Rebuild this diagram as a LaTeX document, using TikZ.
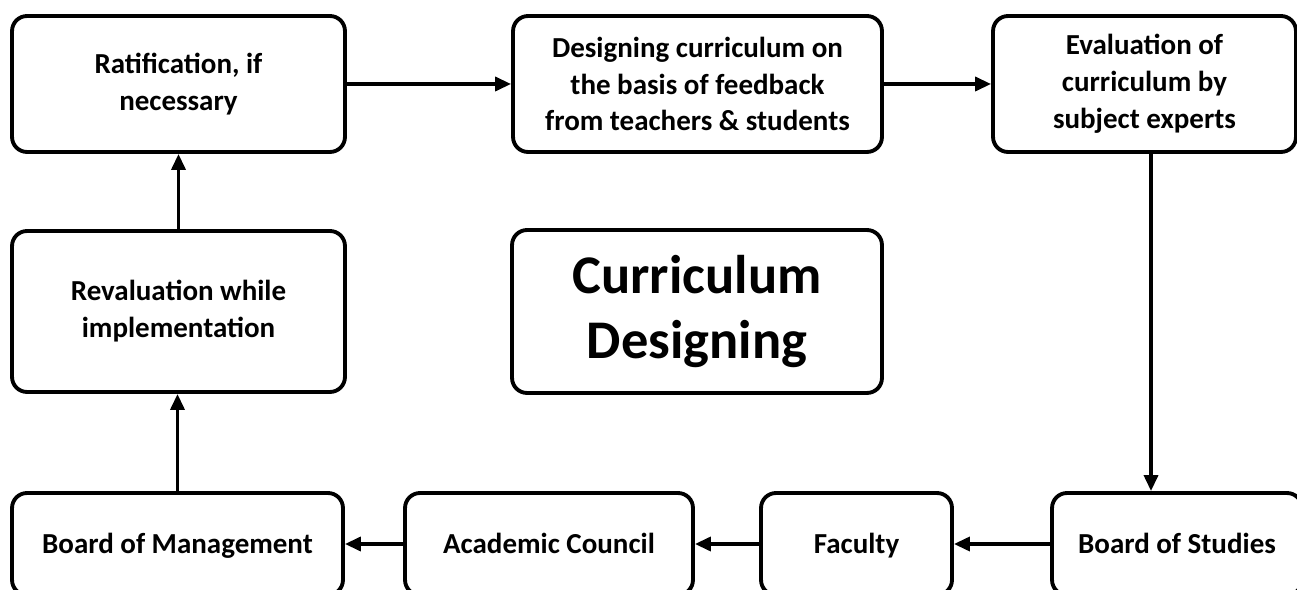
\documentclass[tikz,border=0pt]{standalone}
\usepackage{fontspec}
\setmainfont{Carlito}
\usetikzlibrary{arrows.meta}

\begin{document}
\begin{tikzpicture}[x=0.02cm, y=-0.02cm,
        box/.style={draw, line width=2.2pt, rounded corners=0.3cm, align=center, inner sep=0pt,
            font=\fontsize{16.5}{21}\selectfont\bfseries},
        oneline/.style={box, minimum height=2.04cm, text height=10.6pt, text depth=0pt},
        arr/.style={line width=2pt, -{Triangle[length=0.32cm,width=0.28cm]}}]
        \clip (0,0) rectangle (1297,590);

        % Top row
        \node[box, minimum width=6.66cm, minimum height=2.72cm] (ratif) at (178.5,84) {Ratification, if\\necessary};
        \node[box, minimum width=7.38cm, minimum height=2.72cm] (design) at (697.5,84) {Designing curriculum on\\the basis of feedback\\from teachers \& students};
        \node[box, minimum width=6.06cm, minimum height=2.72cm] (evalu) at (1144.5,84) {Evaluation of\\curriculum by\\subject experts};

        % Middle row
        \node[box, minimum width=6.66cm, minimum height=3.22cm] (reval) at (178.5,311.5) {Revaluation while\\implementation};
        \node[box, minimum width=7.4cm, minimum height=3.26cm, font=\fontsize{31}{37}\selectfont\bfseries] (title) at (697,311.5) {Curriculum\\Designing};

        % Bottom row
        \node[oneline, minimum width=6.62cm] (bom) at (177.5,544) {Board of Management};
        \node[oneline, minimum width=5.76cm] (acad) at (549,544) {Academic Council};
        \node[oneline, minimum width=3.82cm] (fac) at (856.5,544) {Faculty};
        \node[oneline, minimum width=5.0cm] (bos) at (1177,544) {Board of Studies};

        % Arrows
        \draw[arr] (ratif) -- (design);
        \draw[arr] (design) -- (evalu);
        \draw[arr] ([xshift=0.13cm]evalu.south) -- ([xshift=0.13cm]evalu.south |- bos.north);
        \draw[arr] (bos) -- (fac);
        \draw[arr] (fac) -- (acad);
        \draw[arr] (acad) -- (bom);
        \draw[arr] (bom.north) -- (bom.north |- reval.south);
        \draw[arr] (reval) -- (ratif);
\end{tikzpicture}
\end{document}
